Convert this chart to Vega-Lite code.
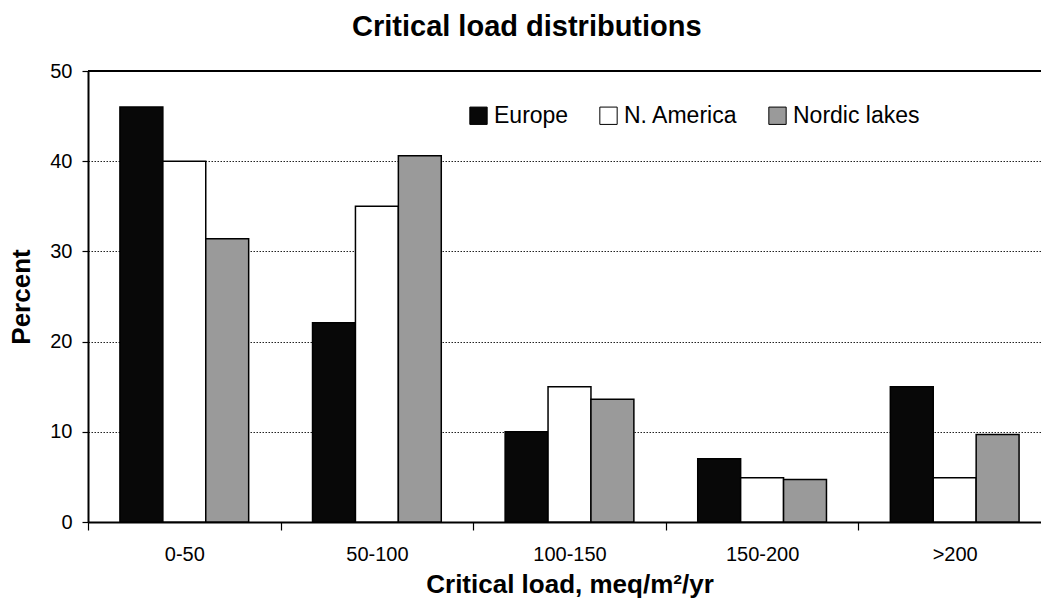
{
  "$schema": "https://vega.github.io/schema/vega-lite/v6.json",
  "autosize": {"type": "none"},
  "padding": {"left": 88, "top": 71, "right": 0, "bottom": 76},
  "width": 953,
  "height": 451,
  "background": "white",
  "title": {
    "text": "Critical load distributions",
    "anchor": "start",
    "frame": "group",
    "dx": 264,
    "offset": -4,
    "baseline": "alphabetic",
    "fontSize": 29,
    "fontWeight": "bold",
    "font": "Liberation Sans",
    "color": "black"
  },
  "data": {
    "values": [
      {"load": "0-50", "region": "Europe", "percent": 46},
      {"load": "0-50", "region": "N. America", "percent": 40},
      {"load": "0-50", "region": "Nordic lakes", "percent": 31.4},
      {"load": "50-100", "region": "Europe", "percent": 22.1},
      {"load": "50-100", "region": "N. America", "percent": 35},
      {"load": "50-100", "region": "Nordic lakes", "percent": 40.6},
      {"load": "100-150", "region": "Europe", "percent": 10},
      {"load": "100-150", "region": "N. America", "percent": 15},
      {"load": "100-150", "region": "Nordic lakes", "percent": 13.6},
      {"load": "150-200", "region": "Europe", "percent": 7},
      {"load": "150-200", "region": "N. America", "percent": 4.9},
      {"load": "150-200", "region": "Nordic lakes", "percent": 4.7},
      {"load": ">200", "region": "Europe", "percent": 15},
      {"load": ">200", "region": "N. America", "percent": 4.9},
      {"load": ">200", "region": "Nordic lakes", "percent": 9.7}
    ]
  },
  "layer": [
    {
      "mark": {"type": "bar", "stroke": "black", "strokeWidth": 1.5},
      "encoding": {
        "x": {
          "field": "load",
          "type": "nominal",
          "sort": null,
          "scale": {"range": [0, 963], "paddingInner": 0, "paddingOuter": 0},
          "axis": {
            "title": "Critical load, meq/m²/yr",
            "labelAngle": 0,
            "tickBand": "extent",
            "tickSize": 8,
            "labelPadding": 14,
            "titlePadding": 7,
            "domainWidth": 2
          }
        },
        "xOffset": {
          "field": "region",
          "type": "nominal",
          "scale": {"domain": ["Europe", "N. America", "Nordic lakes"], "paddingOuter": 0.744, "paddingInner": 0}
        },
        "y": {
          "field": "percent",
          "type": "quantitative",
          "scale": {"domain": [0, 50], "nice": false},
          "axis": {
            "title": "Percent",
            "values": [0, 10, 20, 30, 40, 50],
            "grid": true,
            "gridDash": [1.5, 1.5],
            "gridColor": "#222222",
            "gridWidth": 1,
            "tickSize": 6,
            "labelPadding": 10,
            "titlePadding": 15,
            "domainWidth": 2
          }
        },
        "fill": {
          "field": "region",
          "type": "nominal",
          "scale": {"domain": ["Europe", "N. America", "Nordic lakes"], "range": ["#080808", "#ffffff", "#9a9a9a"]},
          "legend": {
            "title": null,
            "orient": "none",
            "direction": "horizontal",
            "legendX": 379,
            "legendY": 33,
            "symbolType": "square",
            "symbolSize": 300,
            "symbolStrokeColor": "black",
            "symbolStrokeWidth": 1,
            "labelFontSize": 23,
            "labelOffset": 4,
            "columnPadding": 28,
            "padding": 0
          }
        }
      }
    },
    {
      "mark": {"type": "rule", "color": "black", "strokeWidth": 2},
      "encoding": {"y": {"datum": 50}}
    }
  ],
  "config": {
    "font": "Liberation Sans",
    "view": {"stroke": null},
    "axis": {
      "labelFont": "Liberation Sans",
      "titleFont": "Liberation Sans",
      "labelFontSize": 20,
      "titleFontSize": 26,
      "titleFontWeight": "bold",
      "labelColor": "black",
      "titleColor": "black",
      "domainColor": "black",
      "tickColor": "black",
      "tickWidth": 1.2
    },
    "axisX": {"grid": false},
    "legend": {"labelFont": "Liberation Sans", "labelColor": "black"}
  }
}
